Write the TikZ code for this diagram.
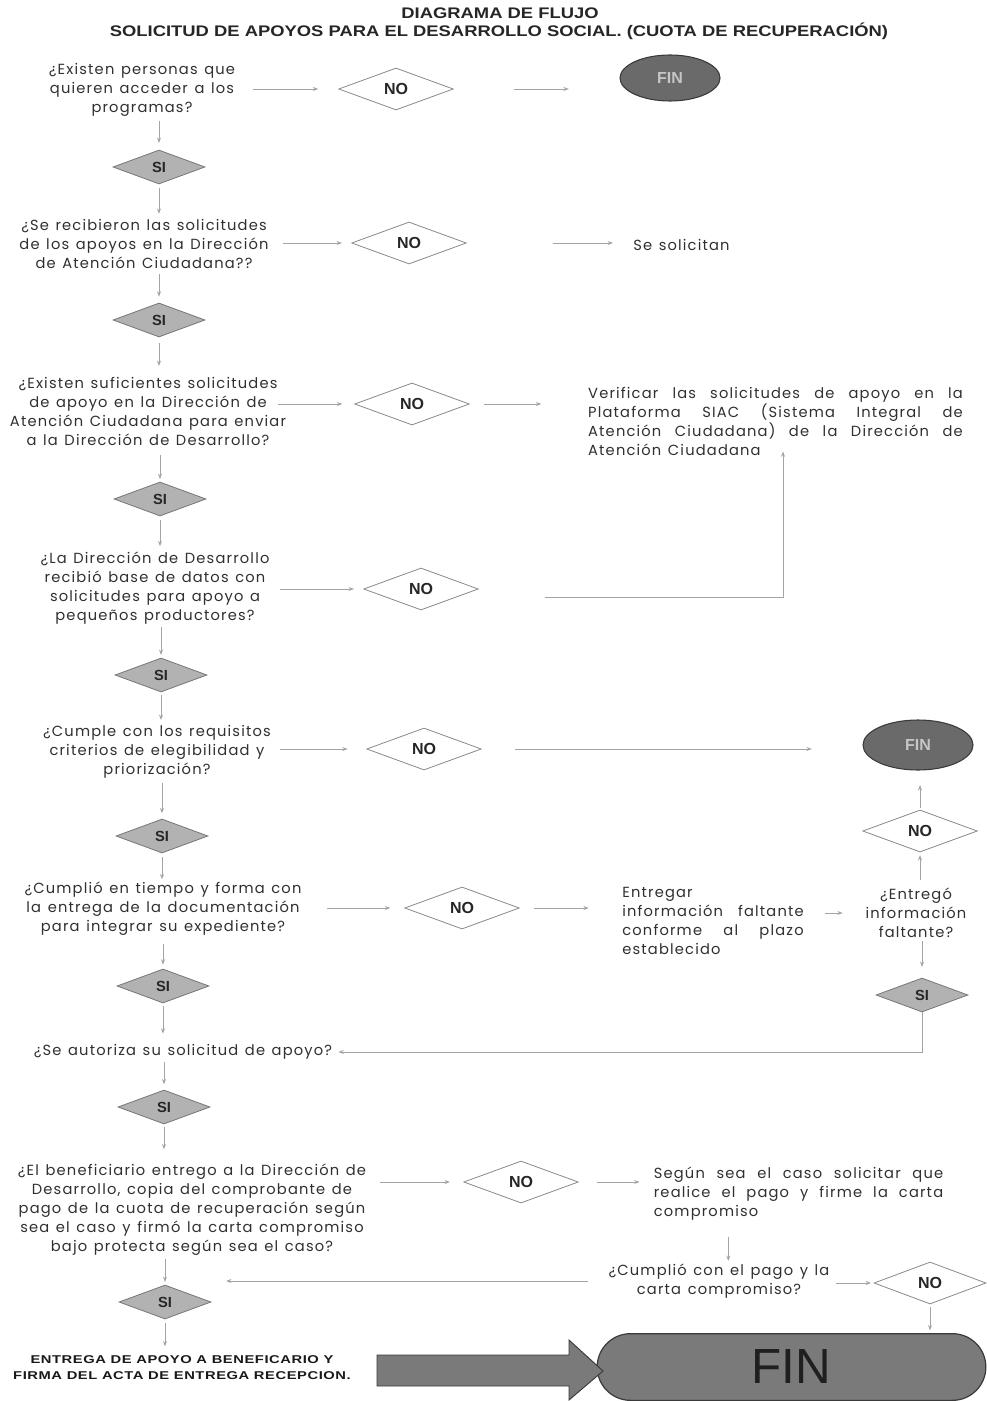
\documentclass[tikz,border=0pt]{standalone}
\usepackage{fontspec}
\setmainfont{Liberation Sans}
\newfontfamily\bodyf[LetterSpace=8,WordSpace=1.3]{Poppins}
\newfontfamily\titlef[FakeStretch=1.2]{Liberation Sans}
\newfontfamily\finalf[FakeStretch=1.3,LetterSpace=5]{Liberation Sans}
\usetikzlibrary{shapes.geometric,arrows.meta}
\definecolor{txtc}{HTML}{303030}
\definecolor{linec}{HTML}{A4A4A4}
\definecolor{nobord}{HTML}{8A8A8A}
\definecolor{sifill}{HTML}{B2B2B2}
\definecolor{sibord}{HTML}{767676}
\definecolor{finfill}{HTML}{6A6A6A}
\definecolor{finbord}{HTML}{3A3A3A}
\definecolor{fintxt}{HTML}{C6C6C6}
\definecolor{bigfill}{HTML}{7A7A7A}
\begin{document}
\begin{tikzpicture}[x=0.75pt,y=-0.75pt,
  q/.style={font=\bodyf\fontsize{11}{14.25}\selectfont, text=txtc, align=center, inner sep=0pt},
  para/.style={font=\bodyf\fontsize{11}{14.25}\selectfont, text=txtc, align=justify, inner sep=0pt},
  nod/.style={diamond, draw=nobord, fill=white, line width=0.6pt, minimum width=86pt, minimum height=31.5pt, inner sep=0pt, font=\bfseries\fontsize{12}{14}\selectfont, text=black!85},
  sid/.style={diamond, draw=sibord, fill=sifill, line width=0.6pt, minimum width=69pt, minimum height=25.5pt, inner sep=0pt, font=\bfseries\fontsize{11}{12}\selectfont, text=black!85},
  fin/.style={ellipse, draw=finbord, fill=finfill, line width=0.8pt, inner sep=0pt, font=\bfseries\fontsize{12}{14}\selectfont, text=fintxt},
  arr/.style={draw=linec, line width=0.6pt, -{Stealth[length=4pt,width=3pt]}},
]
\useasboundingbox (0,0) rectangle (986,1401);
\fill[white] (0,0) rectangle (986,1401);

% titles
\node[font=\titlef\bfseries\fontsize{11.5}{13}\selectfont, text=black!85] (title1) at (500,13) {DIAGRAMA DE FLUJO};
\node[font=\titlef\bfseries\fontsize{11.5}{13}\selectfont, text=black!85] (title2) at (499,31.5) {SOLICITUD DE APOYOS PARA EL DESARROLLO SOCIAL. (CUOTA DE RECUPERACIÓN)};

% question texts
\node[q] (Q1) at (142,90) {¿Existen personas que\\quieren acceder a los\\programas?};
\node[q] (Q2) at (144,244) {¿Se recibieron las solicitudes\\de los apoyos en la Dirección\\de Atención Ciudadana??};
\node[q] (Q3) at (148,411) {¿Existen suficientes solicitudes\\de apoyo en la Dirección de\\Atención Ciudadana para enviar\\a la Dirección de Desarrollo?};
\node[q] (Q4) at (155,588) {¿La Dirección de Desarrollo\\recibió base de datos con\\solicitudes para apoyo a\\pequeños productores?};
\node[q] (Q5) at (157,752) {¿Cumple con los requisitos\\criterios de elegibilidad y\\priorización?};
\node[q] (Q6) at (163,909) {¿Cumplió en tiempo y forma con\\la entrega de la documentación\\para integrar su expediente?};
\node[q] (Q7) at (183,1052) {¿Se autoriza su solicitud de apoyo?};
\node[q] (Q8) at (192,1210) {¿El beneficiario entrego a la Dirección de\\Desarrollo, copia del comprobante de\\pago de la cuota de recuperación según\\sea el caso y firmó la carta compromiso\\bajo protecta según sea el caso?};
\node[q] (Cum) at (719,1281) {¿Cumplió con el pago y la\\carta compromiso?};
\node[q] (Ent) at (916,913) {¿Entregó\\información\\faltante?};

% action texts
\node[q, anchor=west] (SeSol) at (633,245) {Se solicitan};
\node[para, text width=281pt] (Verif) at (775.5,421) {Verificar las solicitudes de apoyo en la\linebreak Plataforma SIAC (Sistema Integral de\linebreak Atención Ciudadana) de la Dirección de\linebreak Atención Ciudadana};
\node[para, text width=136pt] (Entregar) at (713,921) {Entregar\\información faltante\linebreak conforme al plazo\linebreak establecido};
\node[para, text width=217pt] (Segun) at (798.5,1194) {Según sea el caso solicitar que\linebreak realice el pago y firme la carta\linebreak compromiso};
\node[font=\finalf\bfseries\fontsize{8.5}{12}\selectfont, text=black!90, align=center, inner sep=0pt] (Final) at (182,1368) {ENTREGA DE APOYO A BENEFICARIO Y\\FIRMA DEL ACTA DE ENTREGA RECEPCION.};

% NO diamonds
\node[nod] (NO1) at (396,89) {NO};
\node[nod] (NO2) at (409,243) {NO};
\node[nod] (NO3) at (412,404) {NO};
\node[nod] (NO4) at (421,589) {NO};
\node[nod] (NO5) at (424,749) {NO};
\node[nod] (NO6) at (462,908) {NO};
\node[nod] (NO7) at (920,831) {NO};
\node[nod] (NO8) at (521,1182) {NO};
\node[nod, minimum width=84pt] (NO9) at (930,1283) {NO};

% SI diamonds
\node[sid] (SI1) at (159,167) {SI};
\node[sid] (SI2) at (159,320) {SI};
\node[sid] (SI3) at (160,499) {SI};
\node[sid] (SI4) at (161,675) {SI};
\node[sid] (SI5) at (162,836) {SI};
\node[sid] (SI6) at (163,986) {SI};
\node[sid] (SI7) at (922,995) {SI};
\node[sid] (SI8) at (164,1107) {SI};
\node[sid] (SI9) at (165,1302) {SI};

% FIN ellipses
\node[fin, minimum width=75pt, minimum height=34.5pt] (FIN1) at (670,78) {FIN};
\node[fin, minimum width=82.5pt, minimum height=37.5pt] (FIN2) at (918,745) {FIN};

% big arrow and final FIN
\node[rectangle, rounded corners=25pt, draw=finbord, line width=0.9pt, fill=bigfill, minimum width=291.5pt, minimum height=50pt, inner sep=0pt, font=\fontsize{37}{40}\selectfont, text=black!88] (FIN3) at (791.5,1367) {FIN};
\draw[draw=finbord, line width=0.7pt, fill=bigfill] (377,1355) -- (569,1355) -- (569,1340) -- (603,1371) -- (569,1400) -- (569,1386) -- (377,1386) -- cycle;

% horizontal connectors
\draw[arr, shorten <=13.5pt, shorten >=15pt] (Q1.east |- NO1.west) -- (NO1.west);
\draw[arr, shorten <=45pt, shorten >=38pt] (NO1.east) -- (NO1.east -| FIN1.west);
\draw[arr, shorten <=10.5pt, shorten >=7pt] (Q2.east |- NO2.west) -- (NO2.west);
\draw[arr, shorten <=64.5pt, shorten >=15pt] (NO2.east) -- (NO2.east -| SeSol.west);
\draw[arr, shorten <=-6pt, shorten >=9pt] (Q3.east |- NO3.west) -- (NO3.west);
\draw[arr, shorten <=11pt, shorten >=35pt] (NO3.east) -- (NO3.east -| Verif.west);
\draw[arr, shorten <=7.5pt, shorten >=7pt] (Q4.east |- NO4.west) -- (NO4.west);
\coordinate (c4) at (783,597);
\draw[arr, shorten <=49.5pt, shorten >=-3pt] (NO4.east |- c4) -- (c4) -- (c4 |- Verif.south);
\draw[arr, shorten <=7pt, shorten >=14pt] (Q5.east |- NO5.west) -- (NO5.west);
\draw[arr, shorten <=25pt, shorten >=38pt] (NO5.east) -- (NO5.east -| FIN2.west);
\draw[arr, shorten <=19pt, shorten >=10.5pt] (Q6.east |- NO6.west) -- (NO6.west);
\draw[arr, shorten <=11pt, shorten >=25pt] (NO6.east) -- (NO6.east -| Entregar.west);
\draw[arr, shorten <=16pt, shorten >=17pt] (Entregar.east |- Ent.west) -- (Ent.west);
\draw[arr, shorten <=10.5pt, shorten >=10pt] (Q8.east |- NO8.west) -- (NO8.west);
\draw[arr, shorten <=14pt, shorten >=10.5pt] (NO8.east) -- (NO8.east -| Segun.west);
\draw[arr, shorten <=5pt, shorten >=2pt] (Cum.east |- NO9.west) -- (NO9.west);
\draw[arr, shorten <=15pt, shorten >=11pt] (Cum.west) -- (Cum.west -| SI9.east);
\draw[arr, shorten >=4.5pt] (SI7.south) -- (SI7.south |- Q7.east) -- (Q7.east);

% vertical connectors, main column
\draw[arr, shorten <=3pt, shorten >=5pt] (Q1.south -| SI1.north) -- (SI1.north);
\draw[arr, shorten <=3pt, shorten >=4pt] (SI1.south) -- (SI1.south |- Q2.north);
\draw[arr, shorten <=4pt, shorten >=4.5pt] (Q2.south -| SI2.north) -- (SI2.north);
\draw[arr, shorten <=4pt, shorten >=8pt] (SI2.south) -- (SI2.south |- Q3.north);
\draw[arr, shorten <=7pt, shorten >=2pt] (Q3.south -| SI3.north) -- (SI3.north);
\draw[arr, shorten <=3pt, shorten >=4pt] (SI3.south) -- (SI3.south |- Q4.north);
\draw[arr, shorten <=2pt, shorten >=2pt] (Q4.south -| SI4.north) -- (SI4.north);
\draw[arr, shorten <=2pt, shorten >=4pt] (SI4.south) -- (SI4.south |- Q5.north);
\draw[arr, shorten <=3pt, shorten >=4pt] (Q5.south -| SI5.north) -- (SI5.north);
\draw[arr, shorten <=3pt, shorten >=2pt] (SI5.south) -- (SI5.south |- Q6.north);
\draw[arr, shorten <=6pt, shorten >=3pt] (Q6.south -| SI6.north) -- (SI6.north);
\draw[arr, shorten <=2pt, shorten >=8pt] (SI6.south) -- (SI6.south |- Q7.north);
\draw[arr, shorten <=2pt, shorten >=4pt] (Q7.south -| SI8.north) -- (SI8.north);
\draw[arr, shorten <=2pt, shorten >=11pt] (SI8.south) -- (SI8.south |- Q8.north);
\draw[arr, shorten <=2pt, shorten >=2pt] (Q8.south -| SI9.north) -- (SI9.north);
\draw[arr, shorten <=3pt, shorten >=7pt] (SI9.south) -- (SI9.south |- Final.north);

% vertical connectors, right side
\draw[arr, shorten <=6pt, shorten >=2pt] (Ent.north -| NO7.south) -- (NO7.south);
\draw[arr, shorten <=1.5pt, shorten >=11pt] (NO7.north) -- (NO7.north |- FIN2.south);
\draw[arr, shorten <=2pt, shorten >=8pt] (Ent.south -| SI7.north) -- (SI7.north);
\draw[arr, shorten <=12pt, shorten >=2pt] ([xshift=7pt]Cum.north |- Segun.south) -- ([xshift=7pt]Cum.north);
\draw[arr, shorten <=2pt, shorten >=2pt] (NO9.south) -- (NO9.south |- FIN3.north);
\end{tikzpicture}
\end{document}
